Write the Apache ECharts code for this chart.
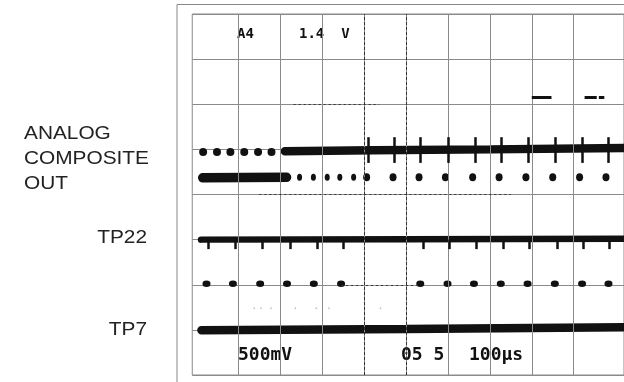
<!DOCTYPE html>
<html><head><meta charset="utf-8">
<script src="https://cdn.jsdelivr.net/npm/echarts@6/dist/echarts.min.js"></script>
<style>html,body{margin:0;padding:0;background:#fff}#c{width:624px;height:382px}</style>
</head><body><div id="c"></div>
<script>
// x in microseconds (100 µs per division), y in divisions counted from the bottom
const gridLinesX = [100, 200, 300, 400, 500, 600, 700, 800, 900];
const darkLinesX = [400, 500];
const darkSegmentsY = [[[150, 4], [750, 4]], [[232, 6], [436, 6]], [[345, 2], [534, 2]]];

const row1DotsX = [16, 49, 81, 114, 147, 179];
const row1DotsY = 4.94;
const row1Line = [[211, 4.96], [420, 4.98], [700, 5.0], [1020, 5.03]];
const row1SpikesX = [411, 473, 534, 600, 665, 728, 791, 855, 920, 982];
const row1SpikeRange = [4.70, 5.27];

const row2Bar = [[15, 4.37], [215, 4.38]];
const row2SmallDotsX = [246, 279, 312, 342, 375];
const row2DotsX = [406, 469, 531, 594, 659, 722, 786, 850, 914, 977];
const row2DotsY = 4.38;

const tp22Line = [[11, 3.0], [500, 3.01], [1020, 3.02]];
const tp22TeethX = [27, 93, 156, 223, 288, 351, 542, 604, 667, 731, 794, 860, 922, 986];
const tp22TeethRange = [2.79, 3.0];
const tp22DotsX = [24, 87, 152, 216, 280, 345, 534, 599, 662, 726, 790, 855, 920, 983];
const tp22DotsY = 2.02;

const faintDotsX = [138, 154, 178, 236, 286, 316, 439];
const faintDotsY = 1.48;

const tp7Line = [[12, 0.99], [500, 1.02], [1020, 1.06]];

const arrowSegs = [[[800, 6.16], [847, 6.16]], [[926, 6.16], [955, 6.16]], [[960, 6.16], [973, 6.16]]];

const topTexts = ['A4', '1.4  V'];
const bottomTexts = ['500mV', '05 5', '100\u03bcs'];
const sideLabels = ['ANALOG\nCOMPOSITE\nOUT', 'TP22', 'TP7'];

const INK = '#111';
const GRID = '#8a8a8a';

const chart = echarts.init(document.getElementById('c'), null, {renderer: 'canvas'});

function vPairs(xs, range) {
  return xs.map(x => [{coord: [x, range[0]]}, {coord: [x, range[1]]}]);
}
const dotStyle = {color: INK, opacity: 1};

const option = {
  animation: false,
  backgroundColor: '#fff',
  grid: {left: 192.25, top: 14, width: 437.75, height: 361, show: true, borderColor: GRID, borderWidth: 1, backgroundColor: 'transparent'},
  xAxis: {type: 'value', min: -10, max: 1020, axisLine: {show: false}, axisTick: {show: false}, axisLabel: {show: false}, splitLine: {show: false}},
  yAxis: {type: 'value', min: 0, max: 8, interval: 1, axisLine: {show: false}, axisTick: {show: false}, axisLabel: {show: false},
    splitLine: {show: true, lineStyle: {color: GRID, width: 1}}},
  series: [
    {
      type: 'line', data: [], silent: true,
      markLine: {
        silent: true, symbol: 'none', label: {show: false}, animation: false,
        lineStyle: {color: GRID, width: 1, type: 'solid'},
        data: gridLinesX.map(x => ({xAxis: x}))
          .concat(darkLinesX.map(x => ({xAxis: x, lineStyle: {color: '#333', width: 1, type: [3, 2]}})))
          .concat(darkSegmentsY.map(s => [{coord: s[0], lineStyle: {color: '#333', width: 1, type: [2, 3]}}, {coord: s[1]}]))
      }
    },
    // ANALOG row 1: dots then thick line with spikes
    {type: 'scatter', data: row1DotsX.map(x => [x, row1DotsY]), symbol: 'circle', symbolSize: [8, 8], itemStyle: dotStyle, silent: true},
    {type: 'line', data: row1Line, showSymbol: false, symbol: 'none', lineStyle: {color: INK, width: 8.5, cap: 'round'}, silent: true,
      markLine: {silent: true, symbol: 'none', label: {show: false}, lineStyle: {color: INK, width: 2.5, type: 'solid'}, data: vPairs(row1SpikesX, row1SpikeRange)}},
    // ANALOG row 2: thick bar then dots
    {type: 'line', data: row2Bar, symbol: 'none', lineStyle: {color: INK, width: 9.5, cap: 'round'}, silent: true},
    {type: 'scatter', data: row2SmallDotsX.map(x => [x, row2DotsY]), symbol: 'circle', symbolSize: [5, 7], itemStyle: dotStyle, silent: true},
    {type: 'scatter', data: row2DotsX.map(x => [x, row2DotsY]), symbol: 'circle', symbolSize: [7, 8], itemStyle: dotStyle, silent: true},
    // TP22 trace with teeth
    {type: 'line', data: tp22Line, symbol: 'none', lineStyle: {color: INK, width: 6.5, cap: 'round'}, silent: true,
      markLine: {silent: true, symbol: 'none', label: {show: false}, lineStyle: {color: INK, width: 2.5, type: 'solid'}, data: vPairs(tp22TeethX, tp22TeethRange)}},
    {type: 'scatter', data: tp22DotsX.map(x => [x, tp22DotsY]), symbol: 'circle', symbolSize: [8, 6.5], itemStyle: dotStyle, silent: true},
    {type: 'scatter', data: faintDotsX.map(x => [x, faintDotsY]), symbol: 'rect', symbolSize: [1.5, 1.5], itemStyle: {color: '#bbb', opacity: 1}, silent: true},
    // TP7
    {type: 'line', data: tp7Line, symbol: 'none', lineStyle: {color: INK, width: 8.5, cap: 'round'}, silent: true},
    // small arrows top right
    {type: 'line', data: [], silent: true,
      markLine: {silent: true, symbol: 'none', label: {show: false}, lineStyle: {color: INK, width: 3, type: 'solid'},
        data: arrowSegs.map(s => [{coord: s[0]}, {coord: s[1]}])}}
  ],
  graphic: [
    {type: 'line', shape: {x1: 177, y1: 4.5, x2: 624, y2: 4.5}, style: {stroke: '#888', lineWidth: 1}, silent: true},
    {type: 'line', shape: {x1: 177, y1: 4.5, x2: 177, y2: 382}, style: {stroke: '#888', lineWidth: 1}, silent: true},
    {type: 'text', x: 237, y: 27, style: {text: topTexts[0], font: 'bold 14px "DejaVu Sans Mono"', fill: INK, verticalAlign: 'top'}, silent: true},
    {type: 'text', x: 299, y: 27, style: {text: topTexts[1], font: 'bold 14px "DejaVu Sans Mono"', fill: INK, verticalAlign: 'top'}, silent: true},
    {type: 'text', x: 238, y: 346, style: {text: bottomTexts[0], font: 'bold 18px "DejaVu Sans Mono"', fill: INK, verticalAlign: 'top'}, silent: true},
    {type: 'text', x: 401, y: 346, style: {text: bottomTexts[1], font: 'bold 18px "DejaVu Sans Mono"', fill: INK, verticalAlign: 'top'}, silent: true},
    {type: 'text', x: 469, y: 346, style: {text: bottomTexts[2], font: 'bold 18px "DejaVu Sans Mono"', fill: INK, verticalAlign: 'top'}, silent: true},
    {type: 'text', x: 24, y: 121, scaleX: 1.12, style: {text: sideLabels[0], font: '18.6px "Liberation Sans"', lineHeight: 25, fill: '#222', verticalAlign: 'top', align: 'left'}, silent: true},
    {type: 'text', x: 147, y: 228, scaleX: 1.12, style: {text: sideLabels[1], font: '18.6px "Liberation Sans"', fill: '#222', verticalAlign: 'top', align: 'right'}, silent: true},
    {type: 'text', x: 147, y: 320, scaleX: 1.12, style: {text: sideLabels[2], font: '18.6px "Liberation Sans"', fill: '#222', verticalAlign: 'top', align: 'right'}, silent: true}
  ]
};
chart.setOption(option);
</script>
</body></html>
